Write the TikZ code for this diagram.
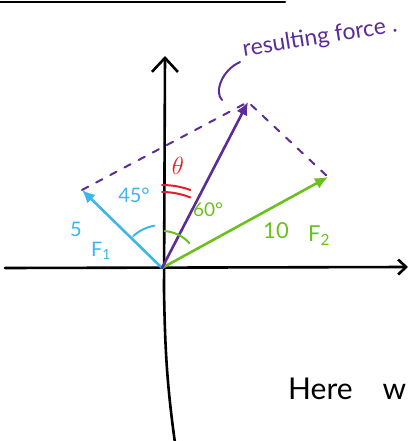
\documentclass[tikz,border=0pt]{standalone}
\usepackage{fontspec}
\setmainfont{Lato}
\usetikzlibrary{arrows.meta,calc,positioning}
\definecolor{Sky}{HTML}{3DB6EA}
\definecolor{Lime}{HTML}{6CC01E}
\definecolor{Grape}{HTML}{5B2C98}
\definecolor{Rose}{HTML}{E21F2C}

\begin{document}
\begin{tikzpicture}[x=1pt, y=1pt, >=Latex, line cap=round,
    axis/.style={line width=2.6pt, black},
    vec/.style={line width=2.6pt, -{Latex[length=13pt, width=12pt]}},
    anglemark/.style={line width=2pt},
    lbl/.style={inner sep=0pt, font=\fontsize{20}{24}\selectfont}]
    \useasboundingbox (0,0) rectangle (410,-441);
    % points
    \coordinate (o) at (162,-268);
    \coordinate (f1) at (82,-190);
    \coordinate (f2) at (328,-177);
    \coordinate (r) at (248,-102);
    \coordinate (ytop) at (165,-56);
    \coordinate (ybot) at (175,-443);
    \coordinate (xl) at (5,-268);
    \coordinate (xr) at (408,-267);
    % axes
    \draw[axis] (0,-2) -- (285,-2);
    \draw[axis, -{Straight Barb[length=14pt, width=26pt]}] (ybot) .. controls (167,-385) and (165,-350) .. (164,-290) -- (ytop);
    \draw[axis, -{Straight Barb[length=8pt, width=15pt]}] (xl) -- (xr);
    % parallelogram sides
    \draw[Grape, line width=2pt, dash pattern=on 7pt off 9pt] (f1) -- (r) -- (f2);
    % vectors
    \draw[vec, Sky] (o) -- (f1);
    \draw[vec, Lime] (o) -- (f2);
    \draw[vec, Grape] (o) -- (r);
    % angle marks
    \draw[anglemark, Sky] ($(o)+(132:43)$) arc[start angle=132, end angle=100, radius=43];
    \draw[anglemark, Lime] ($(o)+(86:37)$) arc[start angle=86, end angle=42, radius=37];
    \draw[anglemark, Rose] ($(o)+(90:83)$) arc[start angle=90, end angle=70, radius=83];
    \draw[anglemark, Rose] ($(o)+(90:76)$) arc[start angle=90, end angle=68, radius=76];
    % labels
    \node[lbl, Grape, rotate=9, font=\fontsize{23}{27}\selectfont] (res) at (320,-38) {resulting force .};
    \draw[anglemark, Grape] (240,-62) .. controls (222,-70) and (214,-92) .. (222,-100);
    \node[lbl, Sky] (a45) at (134,-195) {45°};
    \node[lbl, Rose, font=\fontsize{26}{30}\selectfont] (th) at (178,-166) {$\theta$};
    \node[lbl, Lime, font=\fontsize{19}{23}\selectfont] (a60) at (208,-210) {60°};
    \node[lbl, Sky] (m1) at (76,-229) {5};
    \node[lbl, Sky] (n1) at (101,-251) {F\textsubscript{1}};
    \node[lbl, Lime, font=\fontsize{22}{26}\selectfont] (m2) at (276,-231) {10};
    \node[lbl, Lime, font=\fontsize{22}{26}\selectfont] (n2) at (319,-236) {F\textsubscript{2}};
    \node[lbl, anchor=base west, font=\fontsize{30}{36}\selectfont] (txt) at (288,-399) {Here\hspace{30pt}w};
  \end{tikzpicture}
\end{document}
